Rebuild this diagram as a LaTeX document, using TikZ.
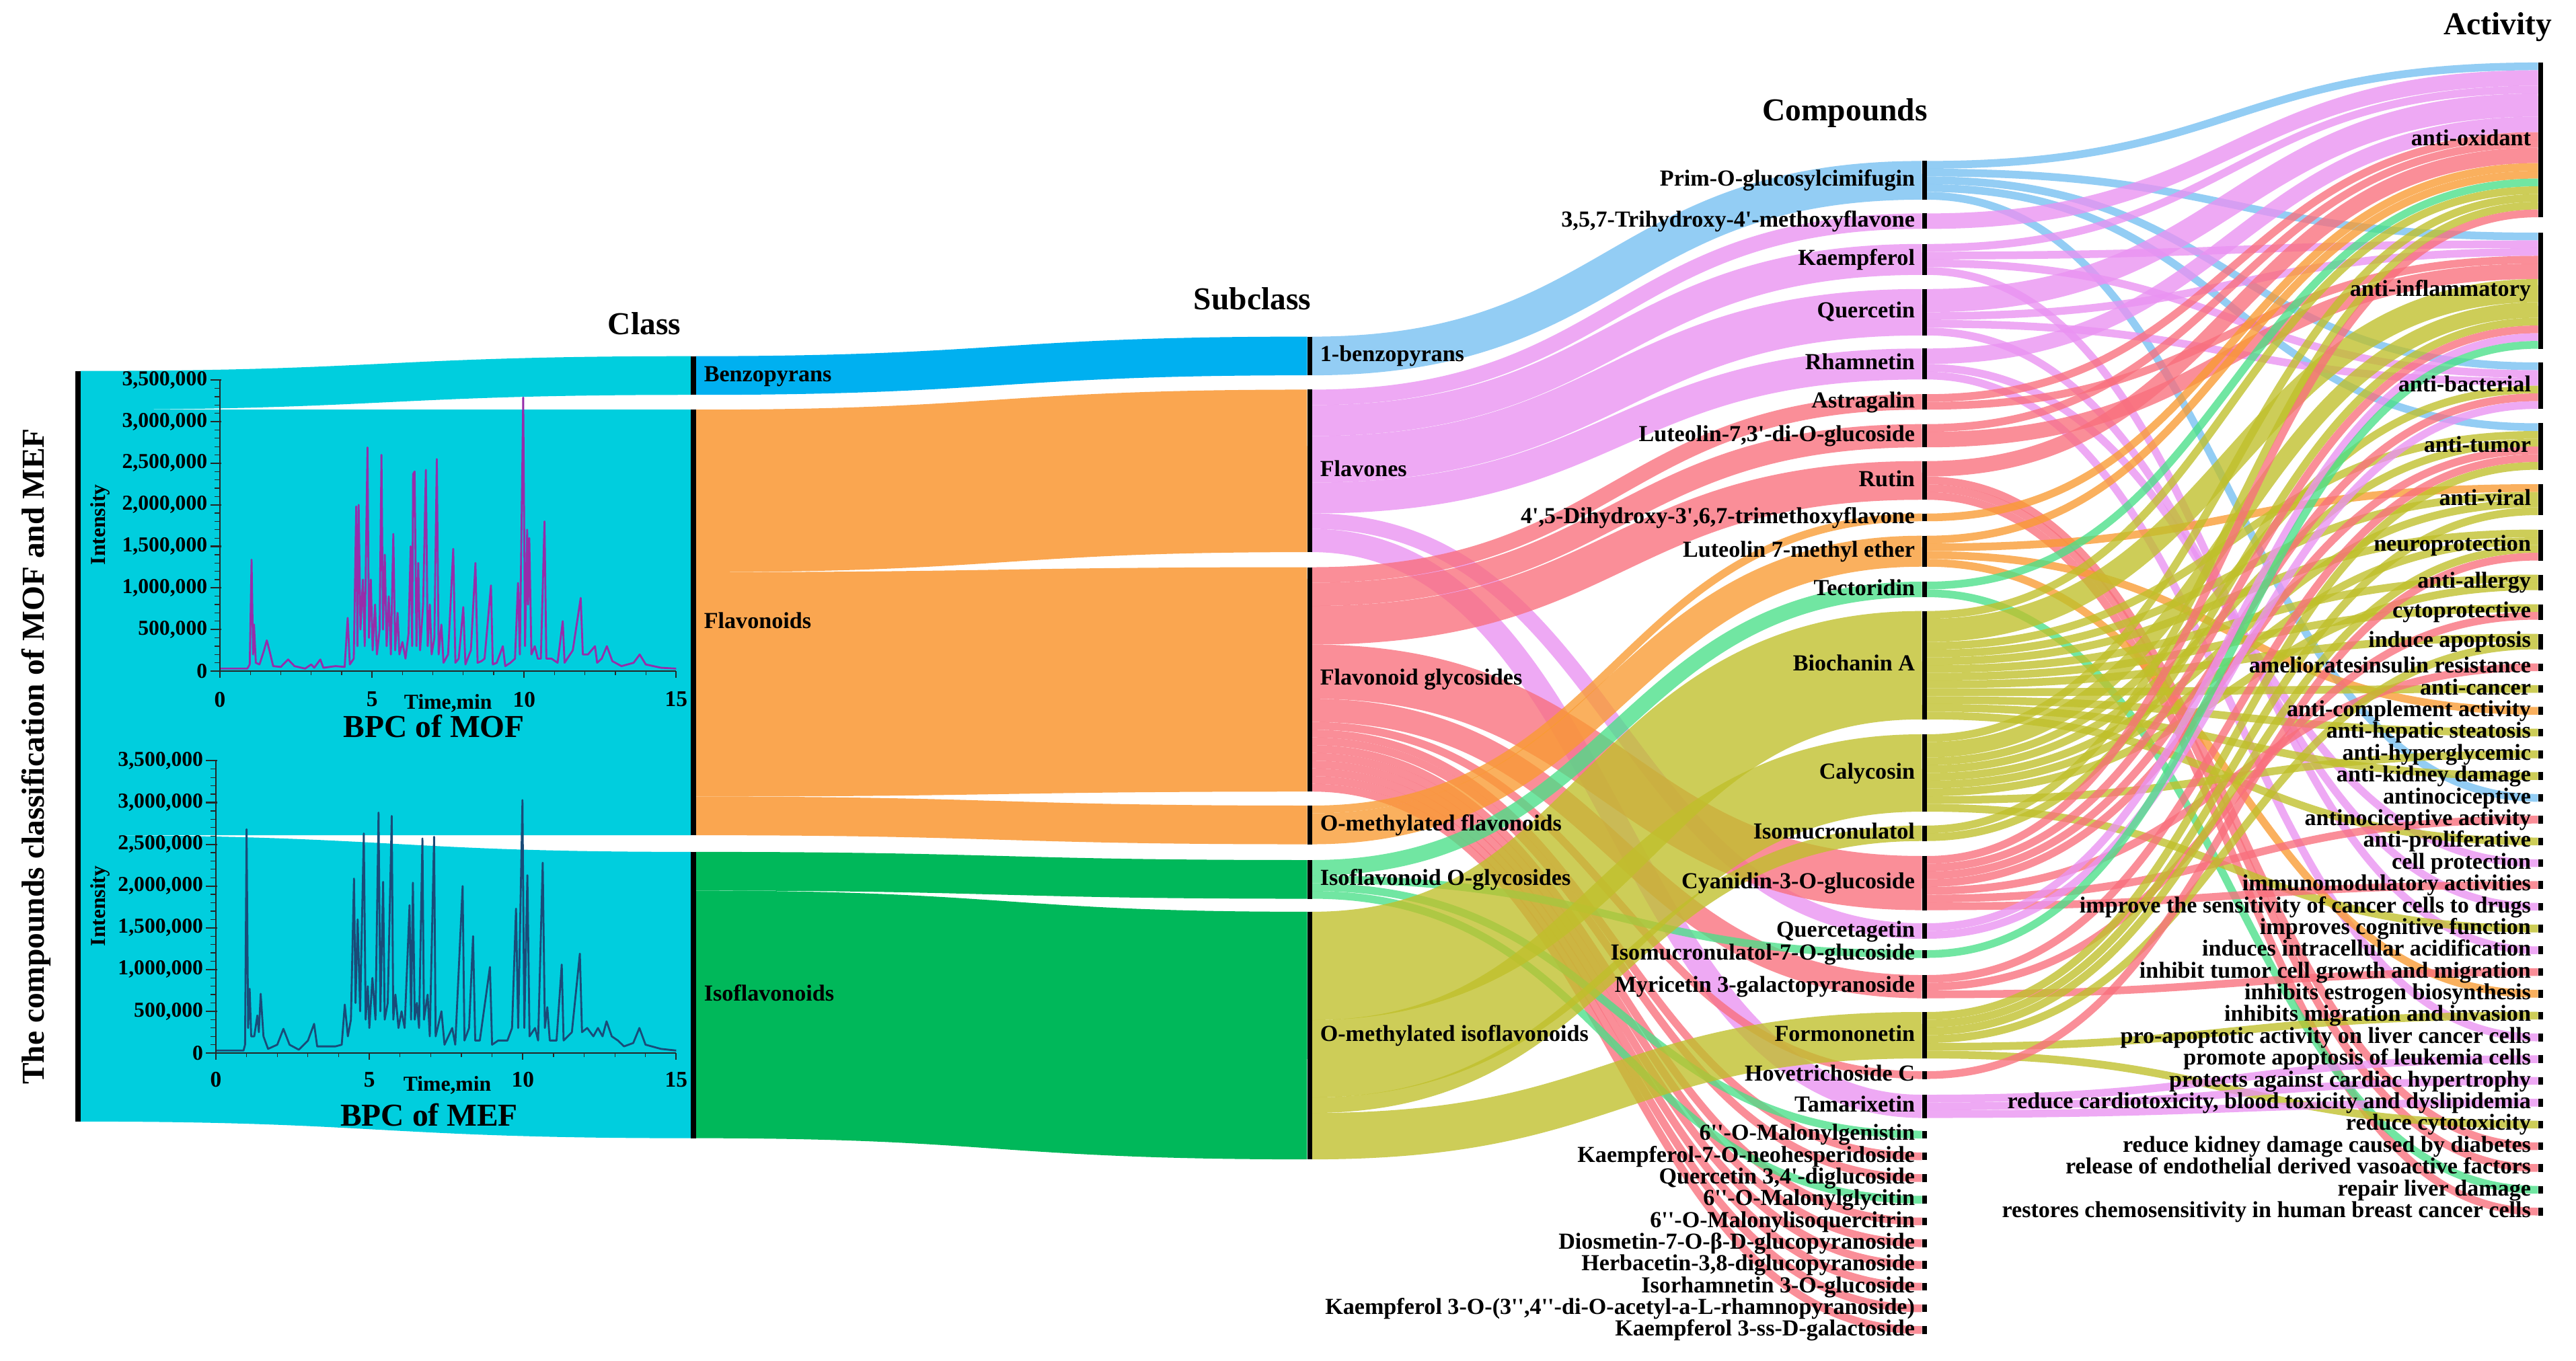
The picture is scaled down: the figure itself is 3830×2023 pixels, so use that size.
\documentclass[tikz,border=0pt]{standalone}
\usepackage{fontspec}
\setmainfont{Liberation Serif}[Ligatures=TeXOff]
\usetikzlibrary{calc}
\pgfdeclarelayer{bg}
\pgfsetlayers{bg,main}

\definecolor{cyanroot}{RGB}{0,206,222}
\definecolor{benzC}{RGB}{0,176,240}
\definecolor{flavC}{RGB}{250,166,80}
\definecolor{isoC}{RGB}{0,184,90}
\definecolor{cBlue}{RGB}{117,192,242}
\definecolor{cPink}{RGB}{234,146,242}
\definecolor{cSalm}{RGB}{249,111,124}
\definecolor{cOran}{RGB}{249,155,49}
\definecolor{cMint}{RGB}{74,224,136}
\definecolor{cOliv}{RGB}{192,192,42}
\definecolor{mofc}{RGB}{150,45,170}
\definecolor{mefc}{RGB}{25,75,120}

\tikzset{
  barnode/.style={fill=black, draw=none, inner sep=0pt, outer sep=0pt, minimum width=2pt},
  flowline/.style={draw opacity=0.78},
  solidflow/.style={draw opacity=1},
  lab/.style={font=\fontsize{9.7}{11}\selectfont\bfseries, inner sep=0pt, text height=6.8pt, text depth=1.9pt},
  ttl/.style={font=\fontsize{13.5}{15}\selectfont\bfseries, inner sep=0pt},
  ticklab/.style={font=\fontsize{9}{10}\selectfont\bfseries, inner sep=0pt},
  axisline/.style={draw=black!85, line width=0.6pt},
  minortick/.style={draw=black!85, line width=0.35pt},
  trace/.style={line width=0.8pt, line join=round}
}

\newcommand\uu{11.5}
\newcommand\snode[4]{%
  \pgfmathsetmacro\snh{#4*\uu*0.284528}%
  \pgfmathsetmacro\sny{#3+#4*\uu/2}%
  \node[barnode, minimum height=\snh pt] (#1) at (#2,\sny) {};%
  \expandafter\xdef\csname out@#1\endcsname{0}%
  \expandafter\xdef\csname in@#1\endcsname{0}%
}
\newcommand\flow[5][flowline]{%
  \pgfmathsetmacro\fw{#4*\uu}%
  \pgfmathsetmacro\oa{-(\csname out@#2\endcsname+\fw/2)*0.284528}%
  \pgfmathsetmacro\ob{-(\csname in@#3\endcsname+\fw/2)*0.284528}%
  \pgfmathsetmacro\lw{\fw*0.284528}%
  \draw[#1, draw=#5, line width=\lw pt]
    let \p1=([yshift=\oa pt]#2.north east), \p2=([yshift=\ob pt]#3.north west) in
    (\p1) .. controls (\x1*0.5+\x2*0.5,\y1) and (\x1*0.5+\x2*0.5,\y2) .. (\p2);%
  \pgfmathsetmacro\na{\csname out@#2\endcsname+\fw}%
  \expandafter\xdef\csname out@#2\endcsname{\na}%
  \pgfmathsetmacro\nb{\csname in@#3\endcsname+\fw}%
  \expandafter\xdef\csname in@#3\endcsname{\nb}%
}
\newcommand\lblL[2]{\node[lab, anchor=east] (#1-l) at ([xshift=-2.8pt]#1.west) {#2};}
\newcommand\lblR[2]{\node[lab, anchor=west] (#1-l) at ([xshift=3.3pt]#1.east) {#2};}

\begin{document}
\begin{tikzpicture}[x=0.01cm, y=-0.01cm]
\useasboundingbox (0,0) rectangle (3830,2023);

% ---------- nodes ----------
\snode{root}{116}{552}{97}
\snode{benz}{1031}{529.7}{5}
\snode{flav}{1031}{609.4}{55}
\snode{isof}{1031}{1267}{37}
\snode{sbenz}{1947}{500.6}{5}
\snode{sflv}{1947}{579.5}{21}
\snode{sfg}{1947}{843.6}{29}
\snode{somf}{1947}{1198}{5}
\snode{siog}{1947}{1279}{5}
\snode{somi}{1947}{1356}{32}

\snode{Prim}{2861}{239.4}{5}
\snode{T357}{2861}{317.4}{2}
\snode{Kae}{2861}{362.8}{4}
\snode{Que}{2861}{429.8}{6}
\snode{Rha}{2861}{518.3}{4}
\snode{Ast}{2861}{586.2}{2}
\snode{Lut73}{2861}{630.7}{3}
\snode{Rut}{2861}{685.7}{5}
\snode{D45}{2861}{763.7}{1}
\snode{L7me}{2861}{796.7}{4}
\snode{Tec}{2861}{865}{2}
\snode{Bio}{2861}{908.7}{14}
\snode{Cal}{2861}{1092}{10}
\snode{Isom}{2861}{1227.7}{2}
\snode{Cya}{2861}{1273}{7}
\snode{Qtg}{2861}{1373}{2}
\snode{I7G}{2861}{1413}{1}
\snode{Myr}{2861}{1450}{3}
\snode{For}{2861}{1505}{6}
\snode{Hov}{2861}{1593}{1}
\snode{Tam}{2861}{1628}{3}
\snode{MGen}{2861}{1681.5}{1}
\snode{KNeo}{2861}{1713.8}{1}
\snode{Q34}{2861}{1746.1}{1}
\snode{MGly}{2861}{1778.4}{1}
\snode{MIso}{2861}{1810.7}{1}
\snode{Dios}{2861}{1843.0}{1}
\snode{Herb}{2861}{1875.3}{1}
\snode{Isor}{2861}{1907.6}{1}
\snode{KAc}{2861}{1939.9}{1}
\snode{KGal}{2861}{1972.2}{1}

\snode{AO}{3777}{93}{20}
\snode{AI}{3777}{346}{15}
\snode{AB}{3777}{539}{6}
\snode{AT}{3777}{629.5}{6}
\snode{AV}{3777}{720}{4}
\snode{NP}{3777}{787.5}{4}
\snode{AA}{3777}{854.5}{2}
\snode{CP}{3777}{898.5}{2}
\snode{IA}{3777}{942.5}{2}
\snode{AIR}{3777}{986.5}{1}
\snode{ACa}{3777}{1018.9}{1}
\snode{ACm}{3777}{1051.3}{1}
\snode{AHS}{3777}{1083.6}{1}
\snode{AHG}{3777}{1116.0}{1}
\snode{AKD}{3777}{1148.4}{1}
\snode{ANoc}{3777}{1180.8}{1}
\snode{ANA}{3777}{1213.2}{1}
\snode{APr}{3777}{1245.5}{1}
\snode{CPr}{3777}{1277.9}{1}
\snode{IMA}{3777}{1310.3}{1}
\snode{IS}{3777}{1342.7}{1}
\snode{ICF}{3777}{1375.1}{1}
\snode{IIA}{3777}{1407.4}{1}
\snode{ITG}{3777}{1439.8}{1}
\snode{IEB}{3777}{1472.2}{1}
\snode{IMI}{3777}{1504.6}{1}
\snode{PAL}{3777}{1537.0}{1}
\snode{PAH}{3777}{1569.3}{1}
\snode{PCH}{3777}{1601.7}{1}
\snode{RCd}{3777}{1634.1}{1}
\snode{RCy}{3777}{1666.5}{1}
\snode{RKD}{3777}{1698.9}{1}
\snode{REL}{3777}{1731.2}{1}
\snode{RLD}{3777}{1763.6}{1}
\snode{RCS}{3777}{1796.0}{1}

% ---------- flows ----------
\begin{pgfonlayer}{bg}
\fill[white] (0,0) rectangle (3830,2023);
\flow[solidflow]{root}{benz}{5}{cyanroot}
\flow[solidflow]{root}{flav}{55}{cyanroot}
\flow[solidflow]{root}{isof}{37}{cyanroot}
\flow[solidflow]{benz}{sbenz}{5}{benzC}
\flow[solidflow]{flav}{sflv}{21}{flavC}
\flow[solidflow]{flav}{sfg}{29}{flavC}
\flow[solidflow]{flav}{somf}{5}{flavC}
\flow[solidflow]{isof}{siog}{5}{isoC}
\flow[solidflow]{isof}{somi}{32}{isoC}

\flow{sbenz}{Prim}{5}{cBlue}
\flow{sflv}{T357}{2}{cPink}
\flow{sflv}{Kae}{4}{cPink}
\flow{sflv}{Que}{6}{cPink}
\flow{sflv}{Rha}{4}{cPink}
\flow{sflv}{Qtg}{2}{cPink}
\flow{sflv}{Tam}{3}{cPink}
\flow{sfg}{Ast}{2}{cSalm}
\flow{sfg}{Lut73}{3}{cSalm}
\flow{sfg}{Rut}{5}{cSalm}
\flow{sfg}{Cya}{7}{cSalm}
\flow{sfg}{Myr}{3}{cSalm}
\flow{sfg}{Hov}{1}{cSalm}
\flow{sfg}{KNeo}{1}{cSalm}
\flow{sfg}{Q34}{1}{cSalm}
\flow{sfg}{MIso}{1}{cSalm}
\flow{sfg}{Dios}{1}{cSalm}
\flow{sfg}{Herb}{1}{cSalm}
\flow{sfg}{Isor}{1}{cSalm}
\flow{sfg}{KAc}{1}{cSalm}
\flow{sfg}{KGal}{1}{cSalm}
\flow{somf}{D45}{1}{cOran}
\flow{somf}{L7me}{4}{cOran}
\flow{siog}{Tec}{2}{cMint}
\flow{siog}{I7G}{1}{cMint}
\flow{siog}{MGen}{1}{cMint}
\flow{siog}{MGly}{1}{cMint}
\flow{somi}{Bio}{14}{cOliv}
\flow{somi}{Cal}{10}{cOliv}
\flow{somi}{Isom}{2}{cOliv}
\flow{somi}{For}{6}{cOliv}

% compounds -> activities
\flow{Prim}{AO}{1}{cBlue}\flow{Prim}{AI}{1}{cBlue}\flow{Prim}{AB}{1}{cBlue}\flow{Prim}{AT}{1}{cBlue}\flow{Prim}{ANoc}{1}{cBlue}
\flow{T357}{AO}{2}{cPink}
\flow{Kae}{AO}{1}{cPink}\flow{Kae}{AI}{1}{cPink}\flow{Kae}{AB}{1}{cPink}\flow{Kae}{IIA}{1}{cPink}
\flow{Que}{AO}{3}{cPink}\flow{Que}{AI}{1}{cPink}\flow{Que}{AB}{1}{cPink}\flow{Que}{IS}{1}{cPink}
\flow{Rha}{AO}{2}{cPink}\flow{Rha}{CPr}{1}{cPink}\flow{Rha}{PAL}{1}{cPink}
\flow{Ast}{AO}{1}{cSalm}\flow{Ast}{AI}{1}{cSalm}
\flow{Lut73}{AO}{1}{cSalm}\flow{Lut73}{AI}{2}{cSalm}
\flow{Rut}{AO}{2}{cSalm}\flow{Rut}{RKD}{1}{cSalm}\flow{Rut}{REL}{1}{cSalm}\flow{Rut}{RCS}{1}{cSalm}
\flow{D45}{AO}{1}{cOran}
\flow{L7me}{AO}{1}{cOran}\flow{L7me}{AV}{1}{cOran}\flow{L7me}{ACm}{1}{cOran}\flow{L7me}{IEB}{1}{cOran}
\flow{Tec}{AO}{1}{cMint}\flow{Tec}{RLD}{1}{cMint}
\flow{Bio}{AO}{1}{cOliv}\flow{Bio}{AI}{3}{cOliv}\flow{Bio}{AT}{1}{cOliv}\flow{Bio}{AV}{1}{cOliv}\flow{Bio}{NP}{1}{cOliv}\flow{Bio}{AA}{1}{cOliv}\flow{Bio}{CP}{1}{cOliv}\flow{Bio}{IA}{1}{cOliv}\flow{Bio}{ACa}{1}{cOliv}\flow{Bio}{AHS}{1}{cOliv}\flow{Bio}{AKD}{1}{cOliv}\flow{Bio}{APr}{1}{cOliv}
\flow{Cal}{AO}{1}{cOliv}\flow{Cal}{AI}{2}{cOliv}\flow{Cal}{AB}{1}{cOliv}\flow{Cal}{AT}{1}{cOliv}\flow{Cal}{AV}{1}{cOliv}\flow{Cal}{NP}{1}{cOliv}\flow{Cal}{AA}{1}{cOliv}\flow{Cal}{AHG}{1}{cOliv}\flow{Cal}{ICF}{1}{cOliv}
\flow{Isom}{AO}{1}{cOliv}\flow{Isom}{AI}{1}{cOliv}
\flow{Cya}{AO}{1}{cSalm}\flow{Cya}{AI}{1}{cSalm}\flow{Cya}{AB}{1}{cSalm}\flow{Cya}{AT}{1}{cSalm}\flow{Cya}{AIR}{1}{cSalm}\flow{Cya}{ANA}{1}{cSalm}\flow{Cya}{IMA}{1}{cSalm}
\flow{Qtg}{AI}{1}{cPink}\flow{Qtg}{AB}{1}{cPink}
\flow{I7G}{AI}{1}{cMint}
\flow{Myr}{AT}{1}{cSalm}\flow{Myr}{CP}{1}{cSalm}\flow{Myr}{ITG}{1}{cSalm}
\flow{For}{AT}{1}{cOliv}\flow{For}{AV}{1}{cOliv}\flow{For}{NP}{1}{cOliv}\flow{For}{IA}{1}{cOliv}\flow{For}{IMI}{1}{cOliv}\flow{For}{RCy}{1}{cOliv}
\flow{Hov}{NP}{1}{cSalm}
\flow{Tam}{PAH}{1}{cPink}\flow{Tam}{PCH}{1}{cPink}\flow{Tam}{RCd}{1}{cPink}
\end{pgfonlayer}

% ---------- chromatogram MOF ----------
\begin{scope}[shift={(327,998)}, x=0.452cm, y=0.1236cm]
\draw[trace, draw=mofc] (0,0.3) -- (0.9,0.3) -- (0.98,0.8) -- (1.04,13.4) -- (1.09,2) -- (1.12,5.6) -- (1.18,1) -- (1.3,0.8) -- (1.45,2.5) -- (1.54,3.7) -- (1.62,2.6) -- (1.75,0.6) -- (2.0,0.5) -- (2.24,1.4) -- (2.45,0.6) -- (2.8,0.3) -- (3.0,0.8) -- (3.1,0.4) -- (3.3,1.4) -- (3.4,0.4) -- (3.8,0.6) -- (4.1,0.5) -- (4.2,6.4) -- (4.27,0.8) -- (4.4,1.5) -- (4.48,19.8) -- (4.52,3) -- (4.56,20) -- (4.62,5) -- (4.7,11) -- (4.76,3) -- (4.85,26.9) -- (4.9,4) -- (4.96,11) -- (5.02,2.5) -- (5.1,8) -- (5.16,2) -- (5.25,5) -- (5.31,26) -- (5.36,5) -- (5.42,14) -- (5.48,3) -- (5.55,9) -- (5.62,2) -- (5.7,16.5) -- (5.76,2.5) -- (5.84,7) -- (5.9,2) -- (6.0,3.5) -- (6.1,1.5) -- (6.2,4.5) -- (6.27,15) -- (6.32,3) -- (6.35,23.7) -- (6.4,24) -- (6.46,3) -- (6.52,13) -- (6.58,2.5) -- (6.68,8) -- (6.77,24.2) -- (6.83,3) -- (6.9,8) -- (6.96,2) -- (7.05,4) -- (7.13,25.5) -- (7.19,2) -- (7.28,5.6) -- (7.35,1) -- (7.5,2) -- (7.67,14.7) -- (7.74,1) -- (7.85,1.5) -- (8.0,7.7) -- (8.07,0.8) -- (8.25,2.5) -- (8.4,13) -- (8.47,1) -- (8.6,1.2) -- (8.7,1.5) -- (8.91,10.3) -- (8.97,0.8) -- (9.1,1) -- (9.3,3) -- (9.38,0.6) -- (9.55,1) -- (9.7,1.5) -- (9.8,10.6) -- (9.86,2) -- (9.97,32.9) -- (10.03,3) -- (10.1,17) -- (10.13,8) -- (10.17,16) -- (10.24,2) -- (10.35,3) -- (10.45,1.5) -- (10.55,1.5) -- (10.67,18) -- (10.73,1.5) -- (10.9,1.5) -- (11.1,1) -- (11.27,6) -- (11.33,1) -- (11.6,2.5) -- (11.86,8.8) -- (11.93,2) -- (12.1,2) -- (12.33,3) -- (12.4,1) -- (12.55,1.5) -- (12.72,3) -- (12.9,1.2) -- (13.2,0.6) -- (13.6,1) -- (13.8,2) -- (14.0,0.8) -- (14.5,0.4) -- (15,0.3);
\draw[axisline] (0,35) -- (0,0) -- (15,0);
\foreach \i in {0,...,35} \draw[minortick] (0,\i) -- (-0.18,\i);
\foreach \i in {0,5,...,35} \draw[axisline] (0.05,\i) -- (-0.32,\i);
\foreach \i in {0,...,15} \draw[minortick] (\i,0) -- (\i,-0.45);
\foreach \i in {0,5,10,15} \draw[axisline] (\i,0) -- (\i,-0.8);
\foreach \v/\t in {0/0, 5/{500,000}, 10/{1,000,000}, 15/{1,500,000}, 20/{2,000,000}, 25/{2,500,000}, 30/{3,000,000}, 35/{3,500,000}}
  \node[ticklab, anchor=east] (myt\v) at (-0.4,\v) {\t};
\foreach \v in {0,5,10,15} \node[ticklab, font=\fontsize{9.5}{10}\selectfont\bfseries] (mxt\v) at (\v,-3.4) {\v};
\node[ticklab] (mxlab) at (7.5,-3.9) {Time,min};
\node[ticklab, rotate=90] (mylab) at (-3.94,17.6) {Intensity};
\node[ttl] (mtitle) at (7.04,-6.6) {BPC of MOF};
\end{scope}

% ---------- chromatogram MEF ----------
\begin{scope}[shift={(321,1566)}, x=0.456cm, y=0.1241cm]
\draw[trace, draw=mefc] (0,0.3) -- (0.9,0.3) -- (0.95,1) -- (1.0,26.8) -- (1.05,3) -- (1.1,7.7) -- (1.15,2) -- (1.25,2) -- (1.35,4.5) -- (1.4,2.5) -- (1.46,7.1) -- (1.55,2) -- (1.7,0.5) -- (2.0,1) -- (2.2,2.9) -- (2.4,1) -- (2.7,0.4) -- (3.0,1.5) -- (3.1,2.5) -- (3.2,3.5) -- (3.3,0.8) -- (3.6,0.8) -- (3.9,0.8) -- (4.1,1) -- (4.2,5.8) -- (4.3,2) -- (4.4,4) -- (4.5,20.9) -- (4.55,6) -- (4.62,16) -- (4.7,5) -- (4.82,26.3) -- (4.88,4) -- (4.95,8) -- (5.0,3) -- (5.1,9) -- (5.2,4) -- (5.3,28.8) -- (5.36,5) -- (5.45,20.5) -- (5.5,4) -- (5.6,6) -- (5.73,28.4) -- (5.78,4) -- (5.85,7) -- (5.95,3) -- (6.05,5) -- (6.15,3) -- (6.31,17.7) -- (6.36,4) -- (6.42,20.4) -- (6.48,4) -- (6.55,6) -- (6.62,3) -- (6.73,25.7) -- (6.78,4) -- (6.9,7) -- (6.97,2) -- (7.11,25.9) -- (7.16,2) -- (7.35,5) -- (7.45,1) -- (7.7,3) -- (7.8,1) -- (8.04,20) -- (8.1,1.5) -- (8.25,3) -- (8.38,14) -- (8.45,1.5) -- (8.6,1.5) -- (8.93,10.3) -- (9.0,1) -- (9.2,1.5) -- (9.5,1.5) -- (9.65,3) -- (9.78,17.3) -- (9.85,3) -- (9.99,30.3) -- (10.05,3) -- (10.15,21.3) -- (10.22,2) -- (10.4,3) -- (10.5,1.5) -- (10.65,22.8) -- (10.72,3) -- (10.8,5.5) -- (10.88,1.5) -- (11.1,1.5) -- (11.27,10.6) -- (11.33,1.5) -- (11.6,2.5) -- (11.86,11.9) -- (11.93,2.5) -- (12.1,3) -- (12.3,2) -- (12.45,3) -- (12.6,2) -- (12.73,3.8) -- (12.9,2) -- (13.1,1.5) -- (13.3,0.8) -- (13.6,1.2) -- (13.8,3) -- (14.0,1) -- (14.5,0.5) -- (15,0.3);
\draw[axisline] (0,35) -- (0,0) -- (15,0);
\foreach \i in {0,...,35} \draw[minortick] (0,\i) -- (-0.18,\i);
\foreach \i in {0,5,...,35} \draw[axisline] (0.05,\i) -- (-0.32,\i);
\foreach \i in {0,...,15} \draw[minortick] (\i,0) -- (\i,-0.45);
\foreach \i in {0,5,10,15} \draw[axisline] (\i,0) -- (\i,-0.8);
\foreach \v/\t in {0/0, 5/{500,000}, 10/{1,000,000}, 15/{1,500,000}, 20/{2,000,000}, 25/{2,500,000}, 30/{3,000,000}, 35/{3,500,000}}
  \node[ticklab, anchor=east] (eyt\v) at (-0.4,\v) {\t};
\foreach \v in {0,5,10,15} \node[ticklab, font=\fontsize{9.5}{10}\selectfont\bfseries] (ext\v) at (\v,-3.2) {\v};
\node[ticklab] (exlab) at (7.54,-3.87) {Time,min};
\node[ticklab, rotate=90] (eylab) at (-3.77,17.6) {Intensity};
\node[ttl] (etitle) at (6.95,-7.4) {BPC of MEF};
\end{scope}

% ---------- titles ----------
\node[ttl, rotate=90] (tmain) at (54,1125) {The compounds classification of MOF and MEF};
\node[ttl] (tclass) at (958,481) {Class};
\node[ttl] (tsub) at (1862,444) {Subclass};
\node[ttl] (tcomp) at (2743,168) {Compounds};
\node[ttl] (tact) at (3714,40) {Activity};

% ---------- labels ----------
\lblR{benz}{Benzopyrans}
\lblR{flav}{Flavonoids}
\lblR{isof}{Isoflavonoids}
\lblR{sbenz}{1-benzopyrans}
\lblR{sflv}{Flavones}
\lblR{sfg}{Flavonoid glycosides}
\lblR{somf}{O-methylated flavonoids}
\lblR{siog}{Isoflavonoid O-glycosides}
\lblR{somi}{O-methylated isoflavonoids}

\lblL{Prim}{Prim-O-glucosylcimifugin}
\lblL{T357}{3,5,7-Trihydroxy-4'-methoxyflavone}
\lblL{Kae}{Kaempferol}
\lblL{Que}{Quercetin}
\lblL{Rha}{Rhamnetin}
\lblL{Ast}{Astragalin}
\lblL{Lut73}{Luteolin-7,3'-di-O-glucoside}
\lblL{Rut}{Rutin}
\lblL{D45}{4',5-Dihydroxy-3',6,7-trimethoxyflavone}
\lblL{L7me}{Luteolin 7-methyl ether}
\lblL{Tec}{Tectoridin}
\lblL{Bio}{Biochanin A}
\lblL{Cal}{Calycosin}
\lblL{Isom}{Isomucronulatol}
\lblL{Cya}{Cyanidin-3-O-glucoside}
\lblL{Qtg}{Quercetagetin}
\lblL{I7G}{Isomucronulatol-7-O-glucoside}
\lblL{Myr}{Myricetin 3-galactopyranoside}
\lblL{For}{Formononetin}
\lblL{Hov}{Hovetrichoside C}
\lblL{Tam}{Tamarixetin}
\lblL{MGen}{6''-O-Malonylgenistin}
\lblL{KNeo}{Kaempferol-7-O-neohesperidoside}
\lblL{Q34}{Quercetin 3,4'-diglucoside}
\lblL{MGly}{6''-O-Malonylglycitin}
\lblL{MIso}{6''-O-Malonylisoquercitrin}
\lblL{Dios}{Diosmetin-7-O-β-D-glucopyranoside}
\lblL{Herb}{Herbacetin-3,8-diglucopyranoside}
\lblL{Isor}{Isorhamnetin 3-O-glucoside}
\lblL{KAc}{Kaempferol 3-O-(3'',4''-di-O-acetyl-a-L-rhamnopyranoside)}
\lblL{KGal}{Kaempferol 3-ss-D-galactoside}

\lblL{AO}{anti-oxidant}
\lblL{AI}{anti-inflammatory}
\lblL{AB}{anti-bacterial}
\lblL{AT}{anti-tumor}
\lblL{AV}{anti-viral}
\lblL{NP}{neuroprotection}
\lblL{AA}{anti-allergy}
\lblL{CP}{cytoprotective}
\lblL{IA}{induce apoptosis}
\lblL{AIR}{amelioratesinsulin resistance}
\lblL{ACa}{anti-cancer}
\lblL{ACm}{anti-complement activity}
\lblL{AHS}{anti-hepatic steatosis}
\lblL{AHG}{anti-hyperglycemic}
\lblL{AKD}{anti-kidney damage}
\lblL{ANoc}{antinociceptive}
\lblL{ANA}{antinociceptive activity}
\lblL{APr}{anti-proliferative}
\lblL{CPr}{cell protection}
\lblL{IMA}{immunomodulatory activities}
\lblL{IS}{improve the sensitivity of cancer cells to drugs}
\lblL{ICF}{improves cognitive function}
\lblL{IIA}{induces intracellular acidification}
\lblL{ITG}{inhibit tumor cell growth and migration}
\lblL{IEB}{inhibits estrogen biosynthesis}
\lblL{IMI}{inhibits migration and invasion}
\lblL{PAL}{pro-apoptotic activity on liver cancer cells}
\lblL{PAH}{promote apoptosis of leukemia cells}
\lblL{PCH}{protects against cardiac hypertrophy}
\lblL{RCd}{reduce cardiotoxicity, blood toxicity and dyslipidemia}
\lblL{RCy}{reduce cytotoxicity}
\lblL{RKD}{reduce kidney damage caused by diabetes}
\lblL{REL}{release of endothelial derived vasoactive factors}
\lblL{RLD}{repair liver damage}
\lblL{RCS}{restores chemosensitivity in human breast cancer cells}
\end{tikzpicture}
\end{document}
